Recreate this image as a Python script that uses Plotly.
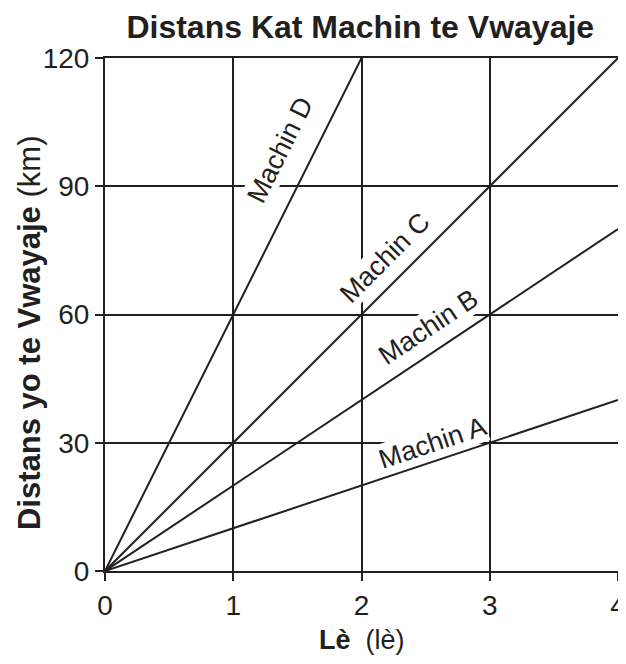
import plotly.graph_objects as go

hours = [0, 1, 2, 3, 4]
machin_a = [0, 10, 20, 30, 40]
machin_b = [0, 20, 40, 60, 80]
machin_c = [0, 30, 60, 90, 120]
machin_d = [0, 60, 120]
hours_d = [0, 1, 2]
x_ticks = [0, 1, 2, 3, 4]
y_ticks = [0, 30, 60, 90, 120]
labels = ["Machin A", "Machin B", "Machin C", "Machin D"]

FONT = "Liberation Sans, Arial, Helvetica, sans-serif"
INK = "#231f20"
line_style = dict(color=INK, width=2)

fig = go.Figure()
for xs, ys in [(hours, machin_a), (hours, machin_b), (hours, machin_c), (hours_d, machin_d)]:
    fig.add_trace(go.Scatter(x=xs, y=ys, mode="lines", line=line_style,
                             showlegend=False, hoverinfo="skip", cliponaxis=False))

# label positions (data coords) and angles
label_pos = [(2.55, 29.9, -18.4), (2.52, 57.1, -33.7), (2.18, 73.2, -45), (1.365, 98.5, -63.5)]
for text, (x, y, ang) in zip(labels, label_pos):
    fig.add_annotation(x=x, y=y, text=text, textangle=ang, showarrow=False,
                       font=dict(family=FONT, size=27, color=INK),
                       bgcolor="white", borderpad=0)

fig.add_annotation(xref="paper", yref="paper", x=0.5, y=-0.135, yanchor="middle",
                   text="<b>Lè</b>  (lè)", showarrow=False,
                   font=dict(family=FONT, size=27, color=INK))
fig.add_annotation(xref="paper", yref="paper", x=-0.146, y=0.464, xanchor="center",
                   yanchor="middle",
                   text="<b>Distans yo te Vwayaje</b> (km)", textangle=-90, showarrow=False,
                   font=dict(family=FONT, size=31, color=INK))

fig.update_layout(
    width=618, height=656,
    margin=dict(l=97, r=8, t=50, b=93, autoexpand=False),
    paper_bgcolor="white", plot_bgcolor="white",
    title=dict(text="<b>Distans Kat Machin te Vwayaje</b>", x=0.57, xanchor="center",
               y=0.972, yanchor="middle",
               font=dict(family=FONT, size=32, color=INK)),
    font=dict(family=FONT, color=INK),
)
axis_common = dict(showline=True, linecolor=INK, linewidth=2, mirror=True,
                   showgrid=True, gridcolor=INK, gridwidth=2,
                   ticks="outside", ticklen=8, tickwidth=2, tickcolor=INK,
                   zeroline=False, automargin=False,
                   tickfont=dict(family=FONT, size=28, color=INK))
fig.update_xaxes(range=[0, 4], tickvals=x_ticks, **axis_common)
fig.update_yaxes(range=[0, 120], tickvals=y_ticks, **axis_common)

fig.write_html("out.html")
